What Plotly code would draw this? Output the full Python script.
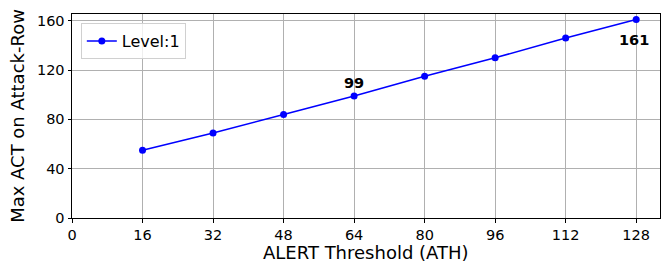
import plotly.graph_objects as go

ath = [16, 32, 48, 64, 80, 96, 112, 128]
max_act = [55, 69, 84, 99, 115, 130, 146, 161]
x_ticks = [0, 16, 32, 48, 64, 80, 96, 112, 128]
y_ticks = [0, 40, 80, 120, 160]
series_name = "Level:1"
x_title = "ALERT Threshold (ATH)"
y_title = "Max ACT on Attack-Row"
labelled = [(64, 99, "bottom"), (128, 161, "top")]

FONT = "DejaVu Sans"

fig = go.Figure()
fig.add_trace(go.Scatter(
    x=ath, y=max_act, mode="lines+markers", name=series_name,
    line=dict(color="#0000ff", width=1.5),
    marker=dict(color="#0000ff", size=7),
))

for xv, yv, anchor in labelled:
    fig.add_annotation(
        x=xv, y=yv, text=f"<b>{yv}</b>", showarrow=False,
        yanchor=anchor, xanchor="center",
        yshift=3 if anchor == "bottom" else -10,
        xshift=0 if anchor == "bottom" else -2,
        font=dict(family=FONT, size=14.5, color="black"),
    )

# x-axis title as a paper-anchored annotation for exact placement
fig.add_annotation(
    x=0.5, y=0, xref="paper", yref="paper", text=x_title, showarrow=False,
    xanchor="center", yanchor="top", yshift=-23, borderpad=0,
    font=dict(family=FONT, size=18, color="black"),
)

axis_common = dict(
    showgrid=True, gridcolor="#b0b0b0", gridwidth=1,
    showline=True, linecolor="black", linewidth=1, mirror=True,
    ticks="outside", ticklen=3.5, tickcolor="black", tickwidth=1,
    tickfont=dict(family=FONT, size=14.5, color="black"),
    zeroline=False, automargin=False,
)

fig.update_layout(
    width=661, height=262,
    margin=dict(l=72, r=1, t=14, b=44),
    paper_bgcolor="white", plot_bgcolor="white",
    font=dict(family=FONT, color="black"),
    xaxis=dict(range=[0, 133.4], tickvals=x_ticks, **axis_common),
    yaxis=dict(range=[0, 165.5], tickvals=y_ticks,
               title=dict(text=y_title, font=dict(family=FONT, size=18), standoff=7),
               **axis_common),
    legend=dict(x=0.015, y=0.955, xanchor="left", yanchor="top",
                bgcolor="rgba(255,255,255,0.8)", bordercolor="#d0d0d0", borderwidth=1,
                font=dict(family=FONT, size=16)),
    showlegend=True,
)

fig.write_html("out.html", config={"displayModeBar": False},
               post_script="document.body.style.margin='0';document.body.style.overflow='hidden';")
